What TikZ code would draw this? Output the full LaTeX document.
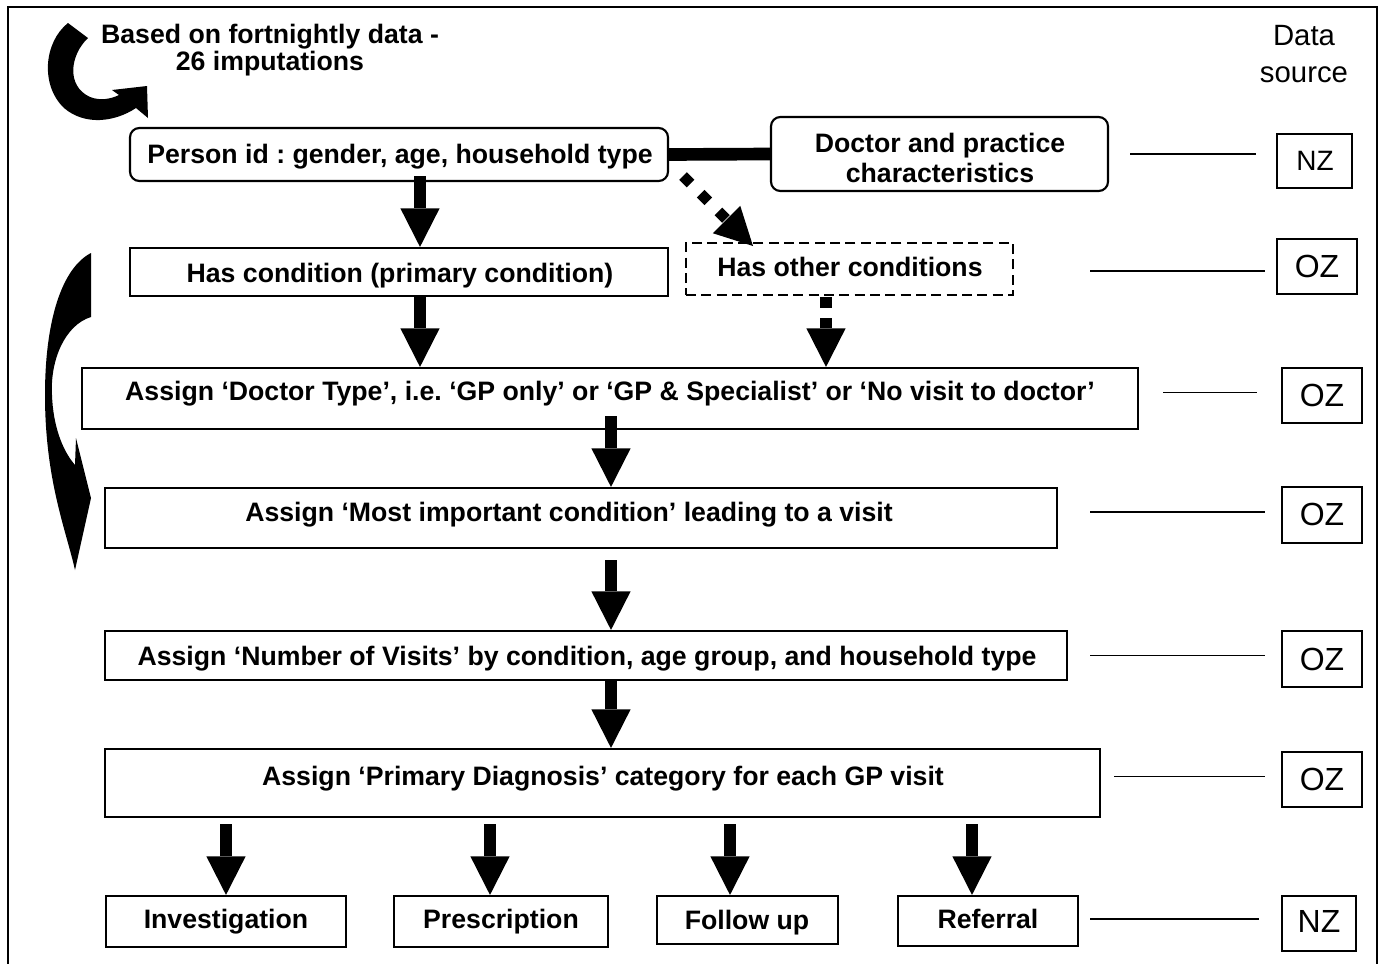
\documentclass[tikz,border=0pt]{standalone}
\usepackage{fontspec}
\setmainfont{Liberation Sans}
\usetikzlibrary{arrows.meta,calc,fit}
\frenchspacing
\begin{document}
\begin{tikzpicture}[x=0.75pt,y=-0.75pt,
  box/.style={draw=black, line width=1.6pt, inner sep=0pt},
  rbox/.style={box, rounded corners=7pt},
  dbox/.style={box, dash pattern=on 7.5pt off 4pt},
  srcbox/.style={draw=black, line width=1.2pt, inner sep=0pt},
  srclbl/.style={font=\fontsize{24}{28}\selectfont, inner sep=0pt, anchor=base},
  txt/.style={font=\bfseries\fontsize{20}{22.5}\selectfont, inner sep=0pt, anchor=base},
  srctxt/.style={font=\fontsize{22}{26}\selectfont, inner sep=0pt, anchor=base},
  srcline/.style={line width=1.3pt},
  bigarrow/.style={line width=8.3pt, -{Triangle[length=29pt,width=29.5pt,line width=0pt]}},
  dasharrow/.style={bigarrow, line width=9pt, dash pattern=on 8.3pt off 7.5pt},
  diamarrow/.style={line width=8pt, dash pattern=on 8pt off 10.8pt, -{Triangle[length=28pt,width=29pt,line width=0pt]}},
  thickcon/.style={line width=9.5pt}
]
\useasboundingbox (0,0) rectangle (1382,964);

% outer frame
\draw[line width=1.8pt] (8,975) -- (8,7) -- (1377,7) -- (1377,975);

% curved arrows
\fill (68,23) -- (88,38) .. controls (70,55) and (66,86) .. (90,97)
  .. controls (100,101) and (111,99) .. (119,95) -- (112,90) -- (147,86) -- (148,118) -- (136,108)
  .. controls (115,122) and (85,126) .. (64,108)
  .. controls (40,85) and (44,42) .. (68,23) -- cycle;
\fill (91,253) -- (91,317) .. controls (65,325) and (50,360) .. (52,395)
  .. controls (53,425) and (62,450) .. (75,465) -- (76,438) -- (91,498) -- (75,570)
  .. controls (66,530) and (45,480) .. (45,395)
  .. controls (45,320) and (62,268) .. (91,253) -- cycle;

% top texts
\node[txt] (based1) at (270,43) {Based on fortnightly data -};
\node[txt] (based2) at (270,70) {26 imputations};
\node[srctxt] (data1) at (1304,45) {Data};
\node[srctxt] (data2) at (1304,82) {source};

% boxes
\node[rbox, fit={(130,128) (668,181)}] (person) {};
\node[rbox, fit={(771,117) (1108,191)}] (doctor) {};
\node[box, fit={(130,248) (668,296)}] (cond) {};
\node[dbox, fit={(686,243) (1013,295)}] (other) {};
\node[box, fit={(82,368) (1138,429)}] (doctype) {};
\node[box, fit={(105,488) (1057,548)}] (most) {};
\node[box, fit={(105,631) (1067,680)}] (visits) {};
\node[box, fit={(105,749) (1100,817)}] (diag) {};
\node[box, fit={(106,896) (346,947)}] (inv) {};
\node[box, fit={(394,896) (608,947)}] (pres) {};
\node[box, fit={(657,896) (838,944)}] (foll) {};
\node[box, fit={(898,896) (1078,946)}] (ref) {};

% box texts
\node[txt] (persontxt) at (400,163) {Person id : gender, age, household type};
\node[txt] (doctxt1) at (940,152) {Doctor and practice};
\node[txt] (doctxt2) at (940,182) {characteristics};
\node[txt] (condtxt) at (400,282) {Has condition (primary condition)};
\node[txt] (othertxt) at (850,276) {Has other conditions};
\node[txt] (doctypetxt) at (610,400) {Assign ‘Doctor Type’, i.e. ‘GP only’ or ‘GP \& Specialist’ or ‘No visit to doctor’};
\node[txt] (mosttxt) at (569,521) {Assign ‘Most important condition’ leading to a visit};
\node[txt] (visitstxt) at (587,665) {Assign ‘Number of Visits’ by condition, age group, and household type};
\node[txt] (diagtxt) at (603,785) {Assign ‘Primary Diagnosis’ category for each GP visit};
\node[txt] (invtxt) at (226,928) {Investigation};
\node[txt] (prestxt) at (501,928) {Prescription};
\node[txt] (folltxt) at (747,929) {Follow up};
\node[txt] (reftxt) at (988,928) {Referral};

% data source boxes
\node[srcbox, fit={(1277,134) (1352,188)}] (nz1) {};
\node[srcbox, fit={(1277,239) (1357,294)}] (oz2) {};
\node[srcbox, fit={(1282,368) (1362,423)}] (oz3) {};
\node[srcbox, fit={(1282,487) (1362,543)}] (oz4) {};
\node[srcbox, fit={(1282,631) (1362,687)}] (oz5) {};
\node[srcbox, fit={(1282,752) (1362,807)}] (oz6) {};
\node[srcbox, fit={(1282,896) (1356,951)}] (nz7) {};
\node[srclbl, font=\fontsize{21}{24}\selectfont] (nz1txt) at (1315,170) {NZ};
\node[srclbl] (oz2txt) at (1317,277) {OZ};
\node[srclbl] (oz3txt) at (1322,406) {OZ};
\node[srclbl] (oz4txt) at (1322,525) {OZ};
\node[srclbl] (oz5txt) at (1322,670) {OZ};
\node[srclbl] (oz6txt) at (1322,790) {OZ};
\node[srclbl] (nz7txt) at (1319,932) {NZ};

% data source lines
\draw[srcline] ($(doctor.east)+(21,0)$) -- ($(nz1.west |- doctor.east)+(-20,0)$);
\draw[srcline] ($(other.east)+(76,2)$) -- ($(oz2.west |- other.east)+(-11,2)$);
\draw[srcline] ($(doctype.east |- oz3.west)+(24,-3)$) -- ($(oz3.west)+(-24,-3)$);
\draw[srcline] ($(most.east |- oz4.west)+(32,-3)$) -- ($(oz4.west)+(-16,-3)$);
\draw[srcline] ($(visits.east)+(22,0)$) -- ($(oz5.west |- visits.east)+(-16,0)$);
\draw[srcline] ($(diag.east |- oz6.west)+(13,-3)$) -- ($(oz6.west)+(-16,-3)$);
\draw[srcline] ($(ref.east)+(11,-2)$) -- ($(nz7.west |- ref.east)+(-22,-2)$);

% connectors
\draw[thickcon] (person.east) -- (doctor.west);

\coordinate (a1s) at (420,176);
\draw[bigarrow] (a1s) -- (a1s |- cond.north);
\coordinate (a2s) at (420,296);
\draw[bigarrow] (a2s) -- (a2s |- doctype.north);
\coordinate (a3s) at (611,416);
\draw[bigarrow] (a3s) -- (a3s |- most.north);
\coordinate (a4s) at (611,560);
\draw[bigarrow] (a4s) -- (a4s |- visits.north);
\coordinate (a5s) at (611,680);
\draw[bigarrow] (a5s) -- (a5s |- diag.north);

\coordinate (b1s) at (226,824);
\draw[bigarrow] (b1s) -- (b1s |- inv.north);
\coordinate (b2s) at (490,824);
\draw[bigarrow] (b2s) -- (b2s |- pres.north);
\coordinate (b3s) at (730,824);
\draw[bigarrow] (b3s) -- (b3s |- foll.north);
\coordinate (b4s) at (972,824);
\draw[bigarrow] (b4s) -- (b4s |- ref.north);

\coordinate (d1s) at (683,176);
\coordinate (d1e) at (753,246);
\draw[diamarrow] (d1s) -- (d1e);
\coordinate (d2s) at (826,297);
\draw[dasharrow] (d2s) -- (d2s |- doctype.north);
\end{tikzpicture}
\end{document}
